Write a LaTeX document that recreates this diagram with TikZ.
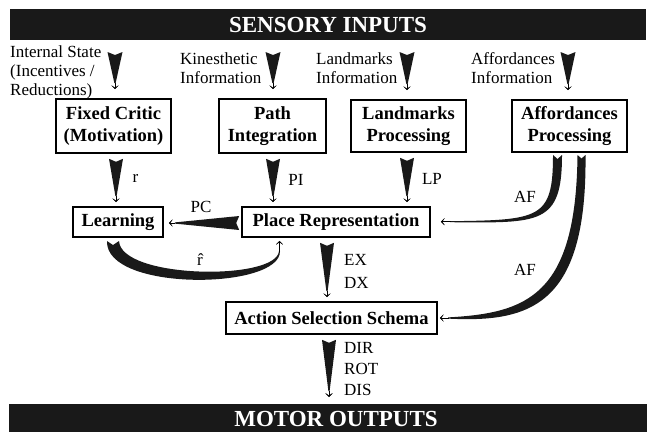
\documentclass[tikz,border=0pt]{standalone}
\usepackage{fontspec}
\setmainfont{Liberation Serif}
\usetikzlibrary{calc,arrows.meta}
\tikzset{
  box/.style={draw, line width=1.6pt, font=\fontsize{18.5}{22}\selectfont\bfseries, align=center, inner sep=0pt},
  lbl/.style={font=\fontsize{17}{19}\selectfont, inner sep=0pt},
  banner/.style={fill=black!90, draw=none, inner sep=0pt, outer sep=0pt},
  bannertext/.style={text=white, font=\fontsize{23}{26}\selectfont\bfseries, inner sep=0pt},
  wedgefill/.style={fill=black!90},
  smallhead/.style={line width=1pt, -{Stealth[length=5pt,width=10pt,inset=3.5pt]}},
}
\newcommand\wedgearrow[3]{%
  \coordinate (wA) at (#1); \coordinate (wB) at (#2);
  \coordinate (wE) at ($(wB)!6pt!(wA)$);
  \fill[wedgefill] ($(wA)!#3!90:(wB)$) -- ($(wA)!3pt!(wB)$) -- ($(wA)!#3!-90:(wB)$)
     -- ($(wE)!0.6pt!90:(wA)$) -- ($(wE)!0.6pt!-90:(wA)$) -- cycle;
  \draw[smallhead] (wE) -- (wB);
}
\begin{document}
\begin{tikzpicture}[x=1pt,y=-1pt]
\useasboundingbox (0,0) rectangle (647,432);
% banners
\node[banner, minimum width=636pt, minimum height=31pt, anchor=north west] (sens) at (10,9) {};
\node[bannertext] (senst) at (328,25) {SENSORY INPUTS};
\node[banner, minimum width=638pt, minimum height=28pt, anchor=north west] (motor) at (9,404) {};
\node[bannertext] (motort) at (336,418.5) {MOTOR OUTPUTS};
% input labels
\node[lbl, anchor=west, align=left] (is) at (10,72.5) {Internal State\\(Incentives /\\Reductions)};
\node[lbl, anchor=west, align=left] (ki) at (180,68) {Kinesthetic\\Information};
\node[lbl, anchor=west, align=left] (li) at (316,68) {Landmarks\\Information};
\node[lbl, anchor=west, align=left] (ai) at (471,68) {Affordances\\Information};
% boxes
\node[box, minimum width=115pt, minimum height=54pt] (fc) at (113.5,126) {Fixed Critic\\(Motivation)};
\node[box, minimum width=107pt, minimum height=54pt] (pi) at (272.5,126) {Path\\Integration};
\node[box, minimum width=115pt, minimum height=52pt] (lp) at (408.5,126) {Landmarks\\Processing};
\node[box, minimum width=115pt, minimum height=52pt] (ap) at (569.5,126) {Affordances\\Processing};
\node[box, minimum width=90pt, minimum height=30pt] (learn) at (118,222) {Learning};
\node[box, minimum width=188pt, minimum height=30pt] (place) at (336,222) {Place Representation};
\node[box, minimum width=211pt, minimum height=32pt] (act) at (331.5,318) {Action Selection Schema};
% input wedges
\coordinate (w1s) at (115,52);
\coordinate (w2s) at (273,52);
\coordinate (w3s) at (407,52);
\coordinate (w4s) at (568,52);
\wedgearrow{w1s}{$(w1s |- fc.north)+(0,-9)$}{7.5pt}
\wedgearrow{w2s}{$(w2s |- pi.north)+(0,-9)$}{7.5pt}
\wedgearrow{w3s}{$(w3s |- lp.north)+(0,-9)$}{7.5pt}
\wedgearrow{w4s}{$(w4s |- ap.north)+(0,-9)$}{7.5pt}
% inner wedges
\wedgearrow{$(fc.south)+(2.5,5)$}{$(learn.north)+(-2,-4)$}{7pt}
\wedgearrow{$(pi.south)+(0.5,5)$}{$(pi.south |- place.north)+(0.5,-4)$}{7pt}
\wedgearrow{$(lp.south)+(-1.5,5)$}{$(lp.south |- place.north)+(-1.5,-4)$}{7pt}
\wedgearrow{$(place.west)+(-2,1)$}{$(learn.east)+(5,1)$}{7pt}
\wedgearrow{$(place.south)+(-9,5)$}{$(act.north)+(-4.5,-4)$}{7pt}
\wedgearrow{$(act.south)+(-2.5,5)$}{$(act.south |- motor.north)+(-2.5,-7)$}{7pt}
% r-hat crescent
\fill[wedgefill] (107,241) .. controls (105,292) and (281,290) .. (280,251) -- (279,251)
   .. controls (277,281) and (121,279) .. (119,241) -- (113,245) -- cycle;
\draw[smallhead] (279.5,252) -- ($(place.south)+(-56.5,3)$);
% AF curves
\fill[wedgefill] (553,155) -- (557.5,159) -- (562,155) .. controls (562,225) and (540,223) .. (450,222.2)
   -- (450,221.2) .. controls (540,220) and (553,219) .. (553,155) -- cycle;
\draw[smallhead] (451,221.7) -- ($(place.east)+(10,-0.3)$);
\fill[wedgefill] (577.5,155) -- (581.5,158.5) -- (585.5,155) .. controls (587,304) and (532,323) .. (448,318.6)
   -- (448,317.4) .. controls (527,313) and (576,296) .. (577.5,155) -- cycle;
\draw[smallhead] (449,318) -- ($(act.east)+(2,0)$);
% labels
\node[lbl] (rl) at (135.5,178) {r};
\node[lbl] (pil) at (296,180) {PI};
\node[lbl] (lpl) at (432,179) {LP};
\node[lbl] (pcl) at (201,207) {PC};
\node[lbl] (rh) at (200,260) {\^{r}};
\node[lbl, align=left, anchor=west, font=\fontsize{17}{23}\selectfont] (exdx) at (344,271.5) {EX\\DX};
\node[lbl, align=left, anchor=west, font=\fontsize{17}{21}\selectfont] (dir) at (344,369) {DIR\\ROT\\DIS};
\node[lbl] (af1) at (525,197) {AF};
\node[lbl] (af2) at (525,270) {AF};
\end{tikzpicture}
\end{document}
